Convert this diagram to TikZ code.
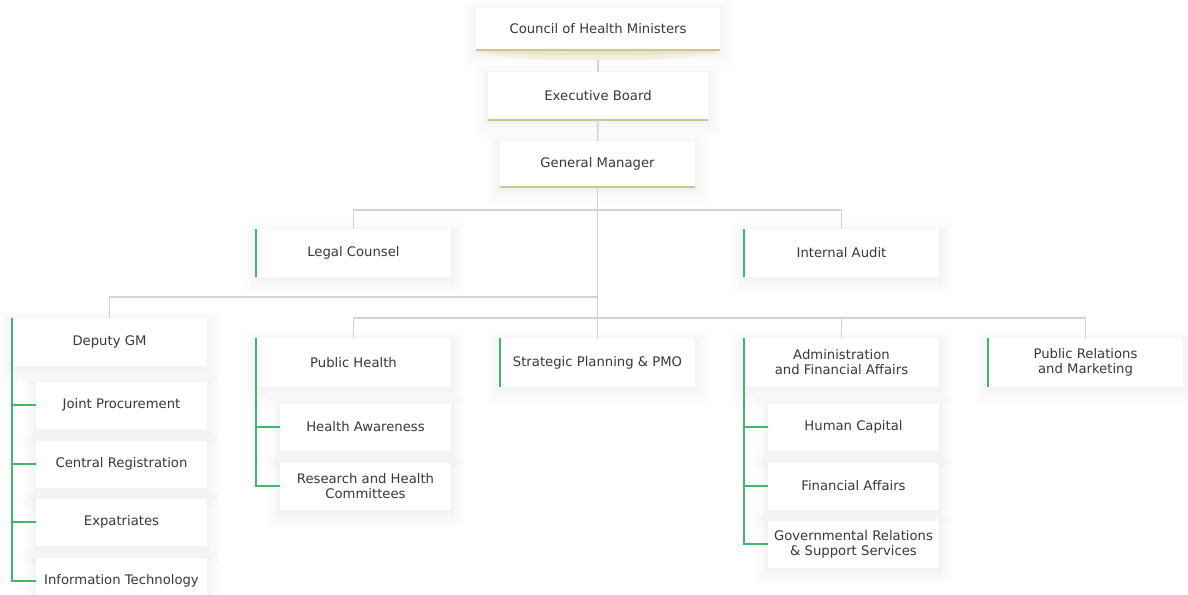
\documentclass[tikz,border=0pt]{standalone}
\usepackage{fontspec}
\setmainfont{DejaVu Sans}
\definecolor{txt}{HTML}{383838}
\definecolor{conn}{HTML}{D2D2D2}
\definecolor{grn}{HTML}{3DB96A}
\definecolor{gold}{HTML}{CFC68A}
\tikzset{
  softshadow/.style={
    preaction={draw=black, draw opacity=0.007, line width=26pt, rounded corners=13pt, transform canvas={yshift=-5pt}},
    preaction={draw=black, draw opacity=0.008, line width=19pt, rounded corners=9pt, transform canvas={yshift=-5pt}},
    preaction={draw=black, draw opacity=0.009, line width=13pt, rounded corners=6pt, transform canvas={yshift=-4pt}},
    preaction={draw=black, draw opacity=0.010, line width=8pt, rounded corners=4pt, transform canvas={yshift=-3pt}},
    preaction={draw=black, draw opacity=0.012, line width=4pt, rounded corners=2pt, transform canvas={yshift=-2pt}}},
  box/.style={softshadow, fill=white, text=txt, align=center,
    font=\fontsize{13.2}{15}\selectfont, inner sep=0pt},
  bigbox/.style={box, minimum width=195pt, minimum height=48pt},
  subbox/.style={box, minimum width=171pt, minimum height=47pt},
  conline/.style={draw=conn, line width=1.5pt},
  gline/.style={draw=grn, line width=2pt},
  goldline/.style={draw=gold, line width=2pt},
}
\begin{document}
\begin{tikzpicture}[x=1pt,y=-1pt]
\useasboundingbox[fill=white] (0,0) rectangle (1188,594);

\coordinate (r1) at (597.5,210);
\coordinate (r2) at (597.5,297);
\coordinate (r3) at (597.5,318);

% top chain
\node[box, minimum width=244pt, minimum height=42pt] (council) at (598,29) {Council of Health Ministers};
\node[box, minimum width=220pt, minimum height=48pt] (exec) at (598,96) {Executive Board};
\node[bigbox, minimum height=46pt] (gm) at (597.5,164) {General Manager};

% row 1
\node[bigbox] (lc) at (353.5,253) {Legal Counsel};
\node[bigbox] (ia) at (841.5,253) {Internal Audit};

% row 2
\node[bigbox] (dep) at (109.5,342) {Deputy GM};
\node[bigbox, minimum height=49pt] (ph) at (353.5,362.5) {Public Health};
\node[bigbox, minimum height=49pt] (sp) at (597.5,362.5) {Strategic Planning \& PMO};
\node[bigbox, minimum height=49pt] (ad) at (841.5,362.5) {Administration\\and Financial Affairs};
\node[bigbox, minimum height=49pt] (pr) at (1085.5,362.5) {Public Relations\\and Marketing};

% deputy sub items
\node[subbox] (jp) at (121.5,405) {Joint Procurement};
\node[subbox] (cr) at (121.5,464) {Central Registration};
\node[subbox] (ex) at (121.5,522) {Expatriates};
\node[subbox] (it) at (121.5,581) {Information Technology};

% public health sub items
\node[subbox] (ha) at (365.5,427) {Health Awareness};
\node[subbox] (rh) at (365.5,486) {Research and Health\\Committees};

% administration sub items
\node[subbox] (hc) at (853.5,427) {Human Capital};
\node[subbox] (fa) at (853.5,486) {Financial Affairs};
\node[subbox] (gr) at (853.5,544) {Governmental Relations\\\& Support Services};

% shading under council
\fill[gold!28] (council.south west) arc[start angle=180, end angle=360, x radius=122pt, y radius=10pt] -- cycle;
\fill[gold!45] (council.south west) arc[start angle=180, end angle=360, x radius=122pt, y radius=5pt] -- cycle;

% gold underlines
\draw[goldline] (council.south west) -- (council.south east);
\draw[goldline] (exec.south west) -- (exec.south east);
\draw[goldline] (gm.south west) -- (gm.south east);

% gray connectors
\draw[conline] (council.south) ++(0,10) -- (exec.north);
\draw[conline] (exec.south) -- (gm.north);
\draw[conline] (gm.south) -- (sp.north);
\draw[conline] (lc.north) |- (r1) -| (ia.north);
\draw[conline] (dep.north) |- (r2);
\draw[conline] (ph.north) |- (r3) -| (pr.north);
\draw[conline] (ad.north) -- (ad.north |- r3);

% green bars
\draw[gline] (lc.north west) -- (lc.south west);
\draw[gline] (ia.north west) -- (ia.south west);
\draw[gline] (sp.north west) -- (sp.south west);
\draw[gline] (pr.north west) -- (pr.south west);

\draw[gline] (dep.north west) |- (it.west);
\draw[gline] (dep.north west |- jp.west) -- (jp.west);
\draw[gline] (dep.north west |- cr.west) -- (cr.west);
\draw[gline] (dep.north west |- ex.west) -- (ex.west);

\draw[gline] (ph.north west) |- (rh.west);
\draw[gline] (ph.north west |- ha.west) -- (ha.west);

\draw[gline] (ad.north west) |- (gr.west);
\draw[gline] (ad.north west |- hc.west) -- (hc.west);
\draw[gline] (ad.north west |- fa.west) -- (fa.west);
\end{tikzpicture}
\end{document}
